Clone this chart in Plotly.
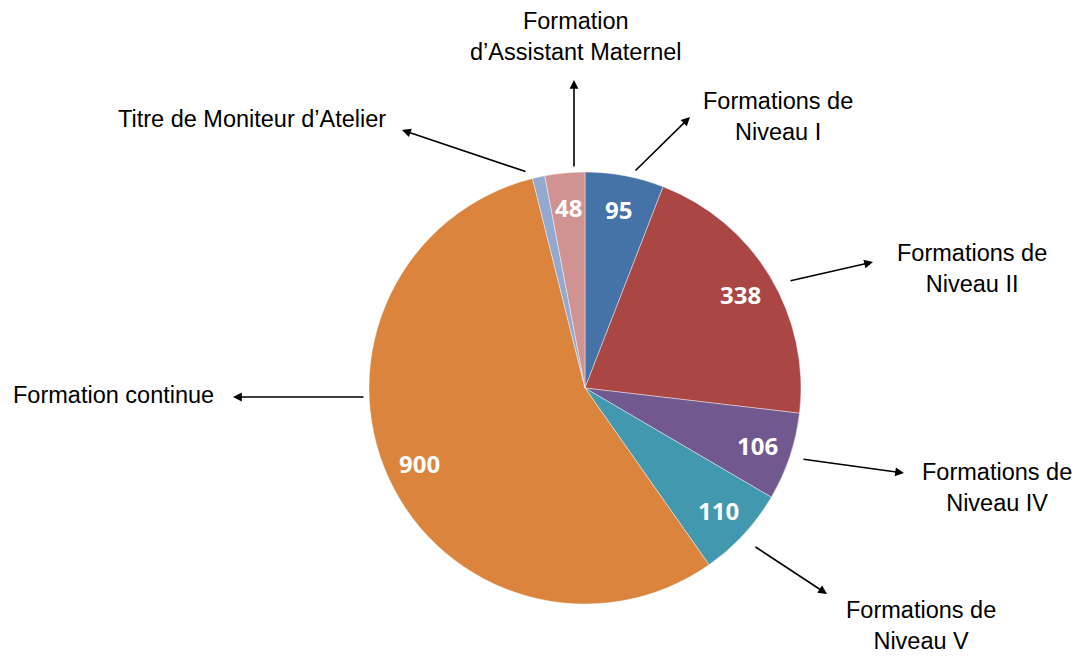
import math
import plotly.graph_objects as go

categories = [
    "Formations de Niveau I",
    "Formations de Niveau II",
    "Formations de Niveau IV",
    "Formations de Niveau V",
    "Formation continue",
    "Titre de Moniteur d’Atelier",
    "Formation d’Assistant Maternel",
]
values = [95, 338, 106, 110, 900, 15, 48]
inside_labels = ["95", "338", "106", "110", "900", "", "48"]
colors = ["#4572A7", "#AA4643", "#71588F", "#4198AF", "#DB843D", "#93A9CF", "#D19392"]

W, H = 1080, 657
OFF = 8  # page body margin
cx, cy, r = 585 - OFF, 388 - OFF, 216

dom_x = [(cx - r) / W, (cx + r) / W]
dom_y = [1 - (cy + r) / H, 1 - (cy - r) / H]

fig = go.Figure(go.Pie(
    labels=categories,
    values=values,
    textinfo="none",
    marker=dict(colors=colors, line=dict(color="rgba(255,255,255,0.6)", width=0.7)),
    sort=False,
    direction="clockwise",
    rotation=0,
    showlegend=False,
    hoverinfo="label+value",
    domain=dict(x=dom_x, y=dom_y),
))

annotations = []

# in-slice value labels, placed from the cumulative values (clockwise from 12 o'clock)
total = sum(values)
cum = 0
for v, t in zip(values, inside_labels):
    mid = (cum + v / 2) / total * 2 * math.pi
    cum += v
    if t:
        annotations.append(dict(
            x=0.84 * math.sin(mid), y=0.84 * math.cos(mid), xref="x", yref="y",
            text=t, showarrow=False, xanchor="center", yanchor="middle",
            font=dict(family="Open Sans", size=24, color="white", weight="bold"),
        ))

def px(x):
    return (x - OFF) / W

def py(y):
    return 1 - (y - OFF) / H

label_font = dict(family="Liberation Sans", size=23.5, color="black")

# (head_x, head_y, tail_x, tail_y) in screen pixels
arrows = [
    (690, 117, 634, 172),
    (873, 262, 789, 281),
    (904, 473, 802, 459),
    (827, 594, 754, 546),
    (233, 397, 365, 397),
    (402, 130, 527, 172),
    (574, 80, 574, 168),
]
for hx, hy, tx, ty in arrows:
    annotations.append(dict(
        x=px(hx), y=py(hy), xref="paper", yref="paper",
        ax=tx - hx, ay=ty - hy, axref="pixel", ayref="pixel",
        text="", showarrow=True, arrowhead=2, arrowsize=1.1, arrowwidth=1.6,
        arrowcolor="black",
    ))

# (text, x, y, xanchor)
labels = [
    ("Formations de<br>Niveau I", 778, 116, "center"),
    ("Formations de<br>Niveau II", 972, 268, "center"),
    ("Formations de<br>Niveau IV", 997, 487, "center"),
    ("Formations de<br>Niveau V", 921, 625, "center"),
    ("Formation continue", 216, 395, "right"),
    ("Titre de Moniteur d’Atelier", 388, 119, "right"),
    ("Formation<br>d’Assistant Maternel", 576, 36, "center"),
]
for t, x, y, xa in labels:
    annotations.append(dict(
        x=px(x), y=py(y), xref="paper", yref="paper", text=t,
        showarrow=False, xanchor=xa, yanchor="middle", font=label_font,
        align="center",
    ))

fig.update_layout(
    width=W, height=H,
    margin=dict(l=0, r=0, t=0, b=0),
    paper_bgcolor="white",
    plot_bgcolor="rgba(0,0,0,0)",
    xaxis=dict(domain=dom_x, range=[-1, 1], visible=False, fixedrange=True),
    yaxis=dict(domain=dom_y, range=[-1, 1], visible=False, fixedrange=True),
    annotations=annotations,
)

fig.write_html("out.html")
